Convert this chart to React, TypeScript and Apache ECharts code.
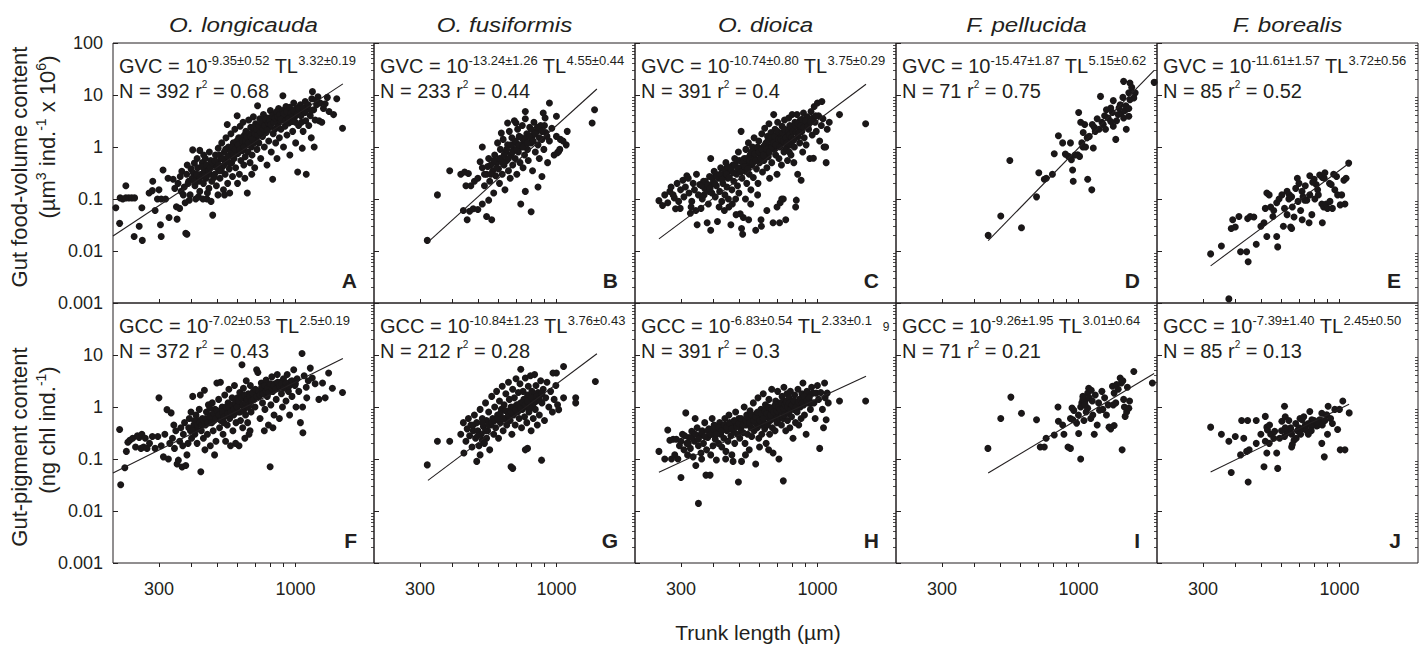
import React, { useEffect, useRef } from "react";
import * as echarts from "echarts";

const FONT = '"Liberation Sans", Arial, Helvetica, sans-serif';
const INK = "#231f20";

const speciesNames = ["O. longicauda", "O. fusiformis", "O. dioica", "F. pellucida", "F. borealis"];
const gvcLetters = ["A", "B", "C", "D", "E"];
const gccLetters = ["F", "G", "H", "I", "J"];

const gvcIntercept = ["-9.35", "-13.24", "-10.74", "-15.47", "-11.61"];
const gvcInterceptErr = ["0.52", "1.26", "0.80", "1.87", "1.57"];
const gvcSlope = ["3.32", "4.55", "3.75", "5.15", "3.72"];
const gvcSlopeErr = ["0.19", "0.44", "0.29", "0.62", "0.56"];
const gvcN = [392, 233, 391, 71, 85];
const gvcR2 = ["0.68", "0.44", "0.4", "0.75", "0.52"];

const gccIntercept = ["-7.02", "-10.84", "-6.83", "-9.26", "-7.39"];
const gccInterceptErr = ["0.53", "1.23", "0.54", "1.95", "1.40"];
const gccSlope = ["2.5", "3.76", "2.33", "3.01", "2.45"];
const gccSlopeErr = ["0.19", "0.43", "0.1", "0.64", "0.50"];
const gccN = [372, 212, 391, 71, 85];
const gccR2 = ["0.43", "0.28", "0.3", "0.21", "0.13"];

const fitStartTL = [200, 322, 247, 451, 321];
const fitEndTL = [1520, 1429, 1535, 1950, 1089];

const xTickValues = [300, 400, 500, 600, 700, 800, 900, 1000];
const xLabelValues = [300, 1000];
const yDecadeValues = [0.0010001, 0.01, 0.1, 1, 10, 99.99];
const yDecadeLabels = ["0.001", "0.01", "0.1", "1", "10", "100"];
const yMinorValues = [
  0.002, 0.003, 0.004, 0.005, 0.006, 0.007, 0.008, 0.009,
  0.02, 0.03, 0.04, 0.05, 0.06, 0.07, 0.08, 0.09,
  0.2, 0.3, 0.4, 0.5, 0.6, 0.7, 0.8, 0.9,
  2, 3, 4, 5, 6, 7, 8, 9,
  20, 30, 40, 50, 60, 70, 80, 90,
];

// ---- GVC (gut food-volume content) ----
const gvcLongicauda = [
  [205,0.068],[212,0.034],[213,0.105],[218,0.1],[224,0.105],[230,0.105],[236,0.105],[242,0.105],[224,0.18],[241,0.019],[259,0.016],[252,0.03],[258,0.068],
  [275,0.13],[283,0.145],[284,0.22],[296,0.1],[306,0.1],[318,0.1],[304,0.032],[306,0.019],[328,0.044],[311,0.36],[325,0.25],[340,0.24],[300,0.15],[290,0.06],
  [352,0.041],[350,0.071],[360,0.066],[380,0.022],[384,0.021],[372,0.12],[367,0.34],[362,0.27],[345,0.16],[355,0.2],[365,0.14],[375,0.17],[383,0.3],[390,0.22],[395,0.12],[398,0.38],[385,0.45],[392,0.095],[378,0.085],[388,0.2],
  [404,0.88],[430,0.86],[410,0.49],[402,0.25],[406,0.32],[412,0.18],[418,0.27],[422,0.4],[426,0.22],[430,0.14],[435,0.3],[440,0.5],[444,0.2],[448,0.35],[452,0.6],[455,0.25],[458,0.1],[462,0.42],[466,0.16],[470,0.3],[474,0.55],[478,0.22],[415,0.1],[425,0.11],[442,0.1],[460,0.13],[475,0.09],[420,0.6],[445,0.7],[468,0.8],
  [482,0.049],[485,0.45],[490,0.3],[494,0.7],[498,0.18],[502,0.5],[506,0.95],[510,0.35],[514,0.25],[518,0.6],[522,1.2],[526,0.42],[530,0.15],[534,0.8],[538,0.3],[542,1.5],[546,0.55],[548,2.7],[550,0.2],[554,1.0],[558,0.38],[562,0.7],[566,1.8],[570,0.5],[574,0.27],[578,1.2],[505,0.12],[535,0.12],[560,0.13],[575,0.9],
  [582,0.6],[586,2.2],[590,0.4],[594,1.0],[598,4.0],[602,0.75],[606,1.5],[610,0.3],[614,2.5],[618,0.55],[622,1.2],[626,0.85],[630,3.0],[634,0.45],[638,1.7],[642,0.65],[646,2.0],[650,1.1],[654,0.13],[658,0.8],[662,3.3],[666,1.4],[670,0.5],[674,2.4],[678,1.0],[682,0.7],[686,1.9],[690,3.8],[694,1.2],[698,0.4],[600,0.2],[640,0.25],[680,0.3],
  [704,2.8],[708,1.5],[712,0.9],[716,6.2],[720,2.0],[724,1.2],[730,3.5],[736,0.6],[742,2.5],[748,1.6],[754,4.2],[760,1.0],[766,2.9],[772,1.9],[778,0.45],[784,3.6],[790,1.3],[796,2.4],[802,5.0],[808,0.8],[814,3.0],[818,0.24],[822,1.8],[828,4.3],[834,2.2],[840,1.2],[846,3.4],[850,0.6],
  [856,2.7],[862,5.5],[868,1.5],[874,3.2],[880,2.2],[886,4.6],[895,9.7],[900,1.0],[906,3.6],[912,2.5],[920,6.0],[928,1.7],[936,4.0],[944,2.9],[952,0.7],[960,5.2],[968,3.1],[976,2.0],[985,7.0],[994,3.8],[1002,1.2],[1010,5.6],[1020,0.33],[1028,2.6],[1036,4.4],[1045,6.5],[1055,3.0],[1062,0.95],[1070,2.0],[1080,4.8],[1090,7.5],[1100,0.3],[1095,3.2],
  [1110,5.8],[1125,2.6],[1140,4.0],[1155,8.5],[1162,11.6],[1175,5.2],[1190,3.3],[1205,6.5],[1220,9.2],[1232,3.2],[1245,7.0],[1262,3.0],[1280,5.5],[1300,6.8],[1325,9.0],[1345,4.8],[1400,4.2],[1440,8.5],[1515,2.3],[1180,1.0],[1150,1.5],
  [410,0.22],[420,0.3],[432,0.26],[438,0.42],[450,0.28],[457,0.45],[465,0.35],[472,0.4],[480,0.5],[488,0.26],[492,0.55],[500,0.4],[508,0.45],[512,0.7],[520,0.35],[528,0.6],[532,0.45],[540,0.9],[552,0.65],[556,0.5],[564,0.85],[572,1.0],[580,0.7],[588,0.9],[596,1.3],[604,1.1],[612,0.9],[620,1.5],[628,1.3],[636,1.0],[644,1.3],[652,1.6],[660,1.2],[668,1.8],[676,1.6],[684,1.4],[692,2.4],[700,1.8],[710,2.2],[718,1.7],[726,2.6],[734,1.9],[744,3.0],[752,2.2],[762,2.6],[770,3.4],[780,2.1],[788,2.9],[798,3.2],[806,2.7],[816,4.0],[826,3.0],[836,3.6],[848,4.8],[858,3.8],[870,4.2],[882,3.4],[892,5.0],[904,4.4],[916,3.2],[926,4.8],[940,3.5],[950,5.8],[962,4.5],[975,3.8],[988,5.0],[1000,3.0],[1015,4.2],[1030,5.4],[1050,4.0],[1070,5.6],[1090,4.6],[1120,6.5],[1150,5.0],[1200,8.0],
];
const gvcFusiformis = [
  [320,0.016],[350,0.12],[390,0.35],[430,0.3],[445,0.33],[460,0.31],[440,0.06],[455,0.04],[465,0.058],[480,0.065],[500,0.063],[450,0.18],[470,0.18],[485,0.22],[540,0.046],[565,0.04],[520,0.08],[550,0.095],[510,0.52],[520,1.0],[615,1.85],[650,2.9],[700,2.9],[760,4.8],[890,4.5],[905,3.6],[940,7.0],[1000,3.9],[1100,2.0],[1035,1.4],[1090,1.1],[1020,0.82],[1010,0.78],[880,0.27],[850,0.17],[800,0.057],[730,0.08],[760,0.14],[1400,5.2],[1370,2.9],
  [500,0.25],[520,0.4],[530,0.18],[540,0.3],[550,0.6],[555,0.22],[560,0.45],[570,0.35],[575,0.13],[580,0.7],[585,0.28],[590,0.5],[595,1.2],[600,0.38],[605,0.2],[610,0.9],[615,0.6],[620,0.3],[625,1.4],[630,0.45],[635,0.15],[640,0.8],[645,0.55],[650,1.1],[655,0.35],[660,2.0],[665,0.25],[670,0.7],[675,1.5],[680,0.45],[685,0.9],[690,3.2],[695,0.6],[700,1.2],[705,0.3],[710,2.2],[715,0.8],[720,1.6],[725,0.5],[730,1.0],[740,2.6],[745,0.4],[750,1.3],[755,0.7],[760,3.5],[770,1.8],[775,0.9],[780,0.55],[790,2.4],[800,1.2],[810,0.35],[815,1.7],[820,3.0],[830,0.8],[840,2.0],[850,1.1],[860,0.6],[870,2.6],[880,1.4],[895,0.9],[910,1.9],[925,0.5],[940,1.3],[960,2.3],[980,0.7],[1000,1.6],[1030,0.9],[1060,1.3],
  [530,0.3],[545,0.42],[560,0.3],[575,0.55],[590,0.4],[605,0.6],[620,0.5],[630,0.7],[645,0.9],[655,0.6],[670,1.1],[680,0.8],[695,1.3],[705,0.9],[720,1.1],[735,1.5],[745,1.0],[760,1.4],[775,1.2],[790,1.6],[800,2.2],[815,1.3],[830,1.8],[845,2.4],[860,1.5],[880,2.0],[900,2.6],[920,1.6],
];
const gvcDioica = [
  [247,0.093],[255,0.075],[260,0.12],[267,0.085],[272,0.14],[275,0.17],[280,0.12],[283,0.105],[286,0.065],[290,0.2],[294,0.09],[298,0.066],[299,0.15],
  [305,0.23],[308,0.11],[312,0.17],[316,0.28],[320,0.25],[322,0.13],[326,0.053],[330,0.09],[334,0.2],[338,0.15],[342,0.06],[346,0.032],[350,0.12],[354,0.19],[358,0.066],[344,0.3],[328,0.07],
  [362,0.1],[366,0.22],[370,0.16],[374,0.17],[378,0.035],[382,0.08],[386,0.27],[390,0.6],[390,0.025],[394,0.13],[398,0.2],[402,0.34],[406,0.11],[410,0.18],[414,0.037],[418,0.25],[422,0.14],[426,0.4],[430,0.09],[368,0.12],[384,0.14],[408,0.3],[420,0.07],
  [434,0.2],[438,0.3],[442,0.12],[446,0.5],[450,0.17],[454,0.25],[458,0.07],[462,0.35],[466,0.032],[470,0.15],[474,0.45],[478,0.22],[482,0.6],[486,0.1],[490,0.3],[494,0.18],[498,0.8],[502,0.4],[506,0.052],[510,2.0],[512,0.027],[514,0.25],[517,0.021],[520,0.044],[440,0.06],[456,0.1],[472,0.08],[488,0.05],[500,0.13],
  [524,0.6],[528,0.35],[532,0.9],[536,0.2],[540,0.5],[544,1.2],[548,0.3],[552,0.7],[556,0.15],[560,0.45],[564,1.0],[568,0.26],[572,1.5],[576,0.6],[580,0.025],[584,0.38],[588,0.85],[592,0.2],[596,1.3],[600,0.5],[604,0.7],[608,0.04],[612,1.8],[616,0.33],[620,1.0],[530,0.1],[555,0.08],[590,0.12],[610,0.03],[545,0.04],
  [624,0.55],[628,2.3],[632,0.8],[636,1.2],[640,0.4],[644,1.6],[648,0.65],[652,2.8],[656,0.25],[660,1.0],[664,1.9],[668,0.5],[672,1.3],[676,0.035],[680,4.2],[684,0.9],[688,2.2],[692,0.7],[696,1.5],[700,0.3],[704,3.0],[708,1.1],[712,0.6],[716,0.035],[720,0.085],[724,1.8],[728,0.45],[732,2.5],[736,1.2],[740,0.1],[744,0.8],[748,3.3],[752,1.6],[756,0.04],[760,0.95],[640,0.06],[700,0.07],[730,0.1],
  [764,2.1],[768,0.55],[772,1.4],[776,3.6],[780,0.8],[784,2.6],[788,1.1],[792,0.7],[796,1.8],[800,4.2],[804,1.3],[808,2.3],[812,0.5],[816,1.0],[820,3.0],[825,0.07],[830,0.095],[835,4.2],[840,0.3],[845,1.6],[850,2.4],[855,1.2],[860,3.3],[866,0.23],[872,2.0],[878,0.8],[884,4.5],[890,1.5],[896,2.9],
  [905,1.1],[915,3.8],[925,2.2],[935,0.6],[945,4.8],[955,1.7],[965,0.61],[972,6.0],[980,3.0],[990,2.0],[1000,7.0],[1010,4.0],[1020,1.3],[1035,2.6],[1040,7.5],[1050,3.5],[1060,1.0],[1075,1.0],[1090,2.2],[1110,3.0],[1215,4.2],[1530,2.8],[1080,0.5],
  [360,0.18],[372,0.22],[380,0.19],[388,0.16],[396,0.25],[404,0.2],[412,0.27],[424,0.3],[432,0.24],[440,0.36],[448,0.3],[452,0.42],[460,0.26],[468,0.38],[476,0.32],[484,0.45],[492,0.55],[496,0.38],[504,0.55],[510,0.33],[518,0.5],[526,0.42],[534,0.6],[542,0.38],[550,0.55],[558,0.8],[566,0.5],[574,0.75],[582,0.55],[590,1.0],[598,0.8],[606,0.6],[614,0.9],[622,0.7],[630,1.1],[638,0.9],[646,1.3],[654,0.8],[662,1.5],[670,1.0],[678,1.2],[686,1.6],[694,1.1],[702,2.0],[710,1.4],[718,1.0],[726,1.4],[734,1.9],[742,1.3],[750,2.2],[758,1.5],[766,1.2],[774,2.0],[782,1.7],[790,2.4],[798,1.5],[806,2.0],[814,1.4],[822,2.6],[830,1.9],[842,2.8],[852,1.9],[862,2.6],[874,3.4],[886,2.4],[900,3.2],[920,2.5],[940,3.0],[960,3.6],[985,4.0],
];
const gvcPellucida = [
  [451,0.020],[504,0.047],[546,0.55],[605,0.028],[691,0.11],[705,0.32],[740,0.24],[753,0.25],[795,0.3],[808,0.74],[838,1.65],[891,0.73],[916,0.66],[932,1.2],[940,0.57],[950,0.36],[955,0.22],[993,0.71],[1010,0.66],[1002,4.6],[1020,3.0],[1057,2.7],[1080,1.5],[1030,1.2],[1085,0.24],[1125,0.15],[1043,1.9],[1130,2.7],[1160,2.0],[1215,9.4],[1245,2.7],[1330,3.1],[1360,2.5],[1390,1.4],[1445,6.5],[1455,4.4],[1490,3.6],[1505,5.0],[1490,18.3],[1575,17],[1560,11],[1630,8.8],[1525,2.2],[1560,3.9],[1575,8.1],[1950,17.5],[1360,7.8],[1330,5.6],[1270,2.2],[1430,5.6],[1140,0.96],[1065,1.0],[970,0.7],[870,1.2],
  [1100,1.6],[1180,3.5],[1260,4.0],[1280,5.2],[1400,3.2],[1520,6.2],[1650,11],[1600,14],[1150,2.4],[1350,4.6],[1480,9.0],[1040,1.0],[1200,2.2],[1300,3.6],[1420,4.2],[1560,5.5],[1230,3.0],
];
const gvcBorealis = [
  [321,0.0088],[353,0.0125],[377,0.0012],[418,0.0097],[441,0.0097],[447,0.0062],[385,0.027],[399,0.029],[390,0.04],[412,0.046],[445,0.042],[455,0.046],[480,0.0135],[527,0.019],[575,0.019],[580,0.012],[527,0.13],[538,0.12],[520,0.066],[545,0.07],[514,0.035],[556,0.046],[575,0.085],[587,0.1],[602,0.12],[616,0.066],[630,0.05],[643,0.12],[656,0.11],[650,0.029],[656,0.027],[694,0.09],[710,0.06],[700,0.2],[719,0.14],[750,0.095],[765,0.035],[800,0.24],[815,0.19],[825,0.15],[840,0.29],[856,0.08],[870,0.07],[890,0.08],[916,0.2],[930,0.19],[975,0.27],[984,0.12],[1007,0.077],[1040,0.23],[1085,0.49],[900,0.066],[940,0.066],[860,0.035],[784,0.05],[736,0.095],[725,0.11],[860,0.26],[875,0.25],[790,0.21],[660,0.07],[670,0.045],[640,0.1],[560,0.06],[630,0.14],[680,0.16],[740,0.18],[770,0.12],[805,0.1],[830,0.12],[950,0.3],[960,0.15],[1020,0.12],[1060,0.25],[720,0.04],[610,0.03],[500,0.03],[470,0.045],[690,0.25],[770,0.28],[880,0.32],[920,0.09],[1050,0.08],
];

// ---- GCC (gut-pigment content) ----
const gccLongicauda = [
  [212,0.37],[214,0.032],[222,0.068],[225,0.14],[228,0.21],[232,0.23],[238,0.25],[244,0.17],[248,0.28],[252,0.26],[256,0.16],[258,0.3],[262,0.17],[266,0.25],[270,0.16],[276,0.2],[283,0.27],[290,0.16],[297,0.27],[300,1.5],
  [306,0.18],[312,0.11],[316,0.3],[322,0.89],[326,0.1],[330,0.2],[334,0.77],[338,0.25],[344,0.16],[348,0.35],[352,0.08],[356,0.095],[360,0.22],[364,0.4],[368,0.07],[372,0.3],[376,0.5],[380,0.075],[384,0.12],[388,0.2],[392,0.6],[396,0.35],[400,0.25],[342,0.45],[370,0.18],[398,0.8],
  [404,1.6],[408,0.45],[412,0.3],[416,0.7],[420,0.2],[424,0.55],[428,0.9],[432,1.7],[434,0.057],[436,0.35],[440,0.6],[444,0.25],[448,2.1],[452,0.45],[456,0.8],[460,0.3],[464,1.1],[468,0.5],[472,0.18],[476,0.7],[480,1.2],[484,0.35],[488,0.55],[492,0.9],[496,0.22],[500,2.9],[504,0.6],[508,1.4],[512,0.4],[516,3.0],[520,0.75],[418,0.38],[450,0.15],[490,0.12],[470,0.95],
  [524,1.0],[528,0.3],[532,0.5],[536,1.7],[540,0.22],[544,0.8],[548,0.45],[552,1.2],[556,2.2],[560,0.6],[564,0.18],[568,0.9],[572,1.5],[576,0.35],[580,0.7],[584,2.6],[588,1.0],[592,0.5],[596,1.3],[600,1.5],[604,0.8],[608,0.18],[612,1.9],[616,0.55],[620,1.1],[624,6.5],[628,0.4],[632,2.3],[636,0.9],[640,1.4],[644,0.7],[648,3.2],[652,1.0],[656,0.5],[660,1.8],[664,0.3],[668,1.2],[672,2.6],[676,0.8],[680,1.5],[590,0.2],[640,0.25],[670,0.35],
  [690,2.0],[700,1.0],[710,5.2],[718,4.6],[725,1.6],[732,0.6],[740,2.9],[748,1.2],[756,2.2],[764,0.9],[772,3.3],[780,1.6],[788,0.45],[796,2.5],[800,0.071],[805,1.1],[812,3.8],[820,2.0],[828,0.7],[836,2.8],[844,1.4],[852,4.2],[860,2.3],[868,0.6],[876,3.0],[884,1.8],[892,1.0],[900,3.5],[760,0.35],[820,0.4],
  [910,2.5],[920,1.3],[930,4.2],[940,2.0],[950,0.7],[960,3.1],[970,1.6],[985,5.2],[995,2.6],[1005,1.0],[1015,3.5],[1030,2.0],[1045,0.5],[1060,10.7],[1065,1.0],[1068,0.32],[1080,4.0],[1100,2.4],[1120,3.2],[1140,5.6],[1160,3.6],[1190,2.8],[1230,1.4],[1270,2.9],[1300,1.5],[1340,4.5],[1385,2.3],[1515,1.9],[1105,1.5],
  [390,0.4],[402,0.35],[410,0.55],[422,0.45],[430,0.5],[438,0.45],[446,0.55],[454,0.6],[462,0.5],[470,0.65],[478,0.5],[486,0.75],[494,0.6],[502,0.85],[510,0.7],[518,0.55],[526,0.8],[534,0.65],[542,1.0],[550,0.75],[558,1.0],[566,0.8],[574,1.1],[582,0.9],[590,1.2],[598,1.0],[606,1.3],[614,0.8],[622,1.5],[630,1.1],[638,1.7],[646,1.2],[654,1.4],[662,1.0],[670,1.6],[678,1.3],[686,1.8],[694,1.4],[702,2.2],[712,1.6],[722,2.0],[732,1.7],[742,2.4],[752,1.8],[762,2.6],[772,2.0],[782,2.3],[792,1.9],[802,2.8],[815,2.2],[825,2.6],[840,2.2],[855,3.0],[870,2.5],[885,2.8],[900,2.3],[920,2.9],[945,2.5],[970,3.2],[1000,2.8],
];
const gccFusiformis = [
  [320,0.077],[350,0.22],[390,0.22],[442,0.13],[495,0.09],[510,0.12],[520,0.23],[540,0.25],[670,0.071],[680,0.066],[760,0.15],[775,0.16],[877,0.095],[730,5.3],[1065,6.0],[1410,3.1],[1185,1.5],[1185,1.2],[1065,1.5],[1020,0.89],[1000,4.5],[970,4.5],
  [430,0.3],[440,0.5],[450,0.22],[455,0.38],[460,0.6],[465,0.28],[470,0.45],[475,0.17],[480,0.35],[485,0.7],[490,0.25],[495,0.5],[500,0.35],[505,0.18],[510,0.9],[515,0.3],[520,0.6],[525,0.42],[530,0.2],[535,1.2],[540,0.55],[545,0.35],[550,0.8],[555,0.15],[560,0.45],[565,1.6],[570,0.6],[575,0.3],[580,1.0],[585,0.4],[590,2.0],[595,0.7],[600,0.25],[605,1.3],[610,0.5],[615,0.9],[620,2.5],[625,0.35],[630,1.1],[635,0.6],[640,1.8],[645,0.45],[650,0.8],[655,3.0],[660,1.4],[665,0.55],[670,1.0],[675,0.3],[680,2.2],[685,0.7],[690,1.5],[695,0.45],[700,3.5],[705,1.1],[710,0.8],[715,1.9],[720,0.6],[725,2.8],[730,1.2],[735,0.4],[740,0.9],[745,2.0],[750,1.4],[755,0.65],[760,3.6],[765,1.0],[770,0.5],[775,1.7],[780,2.5],[785,0.8],[790,1.3],[795,4.0],[800,0.35],[805,2.0],[810,1.0],[815,0.6],[820,1.6],[825,4.2],[830,0.9],[835,2.6],[840,1.3],[845,0.45],[850,1.9],[860,0.7],[870,3.2],[880,1.2],[890,2.2],[900,0.55],[910,1.5],[920,3.0],[935,1.0],[950,2.0],[965,0.8],[980,1.4],[995,2.6],[1010,1.1],
  [480,0.45],[500,0.28],[520,0.5],[535,0.35],[550,0.45],[565,0.5],[580,0.55],[595,0.6],[610,0.75],[625,0.6],[640,0.85],[655,0.7],[670,0.8],[685,1.0],[700,0.9],[715,1.1],[730,0.95],[745,1.2],[760,1.1],[775,1.3],[790,1.0],[805,1.5],[820,1.2],[840,1.6],[860,1.4],[880,1.8],
];
const gccDioica = [
  [247,0.14],[260,0.1],[267,0.36],[272,0.23],[276,0.1],[280,0.24],[284,0.12],[288,0.24],[292,0.1],[296,0.18],[300,0.044],[304,0.3],[308,0.15],[313,0.77],[316,0.2],[318,0.12],
  [322,0.26],[326,0.16],[330,0.34],[334,0.11],[338,0.22],[342,0.075],[346,0.4],[350,0.014],[350,0.18],[354,0.28],[358,0.13],[362,0.35],[366,0.2],[370,0.5],[374,0.049],[376,0.15],[380,0.26],[384,0.38],[388,0.049],[390,0.12],[394,0.3],[398,0.18],[402,0.45],[406,0.24],[410,0.096],[414,0.35],[418,0.2],[340,0.6],[360,0.1],[395,0.6],
  [422,0.5],[426,0.3],[430,0.17],[434,0.42],[438,0.25],[442,0.6],[446,0.14],[450,0.35],[454,0.22],[458,0.7],[462,0.4],[466,0.28],[470,0.12],[474,0.5],[478,0.33],[482,0.2],[486,0.8],[490,0.45],[494,0.3],[498,0.036],[500,0.6],[504,0.25],[508,0.38],[512,0.09],[516,0.55],[520,0.32],[524,1.0],[528,0.2],[532,0.45],[536,0.7],[540,0.3],[544,0.5],[548,0.15],[552,0.85],[556,0.4],[560,0.27],[445,0.1],[475,0.09],[530,0.12],
  [564,0.6],[568,1.2],[572,0.35],[576,0.5],[580,0.08],[584,0.75],[588,0.4],[592,1.5],[596,0.25],[600,0.6],[604,0.45],[608,0.9],[612,0.3],[616,0.7],[620,1.8],[624,0.5],[628,0.38],[632,1.1],[636,0.2],[640,0.65],[644,0.45],[648,0.9],[652,1.4],[656,0.3],[660,0.55],[664,0.8],[668,2.2],[672,0.4],[676,0.13],[680,1.0],[684,0.6],[688,0.35],[692,1.3],[696,0.7],[700,0.5],[704,2.0],[708,0.9],[712,0.1],[716,0.6],[720,1.2],[740,0.038],[650,0.15],[600,0.17],
  [724,0.8],[728,0.45],[732,1.6],[736,1.0],[740,0.6],[744,2.4],[748,0.7],[752,1.3],[756,0.35],[760,0.9],[764,1.8],[768,0.55],[772,1.1],[776,0.75],[780,1.5],[784,0.4],[788,2.0],[792,1.0],[796,0.65],[800,1.3],[806,0.25],[812,0.9],[818,1.7],[824,0.5],[830,1.2],[836,0.8],[842,2.2],[848,0.45],[854,1.4],[860,1.0],[866,0.6],[872,1.8],[880,2.9],[886,1.1],[892,0.7],[898,1.5],
  [905,0.3],[912,2.0],[920,1.2],[930,1.6],[940,0.9],[950,2.4],[960,1.85],[970,1.2],[980,0.6],[990,1.85],[1000,2.6],[1010,1.4],[1020,0.16],[1030,1.9],[1045,0.9],[1065,2.9],[1070,1.5],[1080,0.57],[1090,1.85],[1100,1.2],[1215,1.3],[1530,1.3],[1055,0.4],
  [300,0.22],[310,0.28],[320,0.2],[330,0.26],[340,0.3],[350,0.24],[360,0.32],[370,0.27],[380,0.35],[390,0.3],[400,0.38],[410,0.3],[420,0.4],[430,0.35],[440,0.45],[450,0.4],[460,0.5],[470,0.38],[480,0.55],[490,0.42],[500,0.48],[510,0.6],[520,0.45],[530,0.55],[540,0.65],[550,0.5],[560,0.7],[570,0.55],[580,0.65],[590,0.8],[600,0.55],[610,0.75],[620,0.6],[630,0.85],[640,0.75],[650,1.0],[660,0.7],[670,0.9],[680,0.8],[690,1.1],[700,0.85],[710,1.0],[720,0.9],[730,1.2],[740,0.95],[750,1.1],[760,1.25],[770,1.0],[780,1.2],[790,0.9],[800,1.1],[815,1.3],[830,1.0],[845,1.25],[860,1.4],[875,1.2],[890,1.6],[910,1.3],[930,1.5],[950,1.2],
];
const gccPellucida = [
  [450,0.16],[504,0.6],[551,1.55],[605,0.76],[691,0.57],[714,0.17],[740,0.17],[752,0.25],[808,0.29],[838,0.53],[835,1.0],[880,0.3],[912,0.17],[932,0.16],[932,0.6],[952,0.57],[960,0.86],[945,0.96],[984,0.49],[1002,0.31],[1020,0.1],[1030,1.2],[1020,1.0],[1040,1.4],[1060,1.3],[1070,0.8],[1085,0.95],[1095,2.3],[1085,1.85],[1115,0.6],[1135,0.7],[1150,0.3],[1195,1.2],[1205,0.87],[1300,1.1],[1310,0.41],[1330,0.38],[1360,1.1],[1370,0.44],[1350,2.5],[1370,1.85],[1470,0.15],[1490,1.4],[1500,1.0],[1510,0.66],[1530,0.8],[1560,0.95],[1460,2.9],[1400,2.7],[1445,3.6],[1630,4.8],[1920,2.9],
  [1040,1.6],[1060,1.1],[1100,1.5],[1130,1.3],[1160,1.7],[1230,2.0],[1260,1.5],[1280,0.7],[1420,2.2],[1540,2.4],[1480,3.2],[1000,0.7],[1050,0.55],[1180,0.45],[1240,0.9],[1390,1.2],[870,0.45],[1120,2.1],[1570,1.3],
];
const gccBorealis = [
  [321,0.41],[353,0.3],[377,0.22],[399,0.27],[422,0.55],[445,0.55],[385,0.055],[418,0.12],[441,0.14],[451,0.15],[447,0.036],[480,0.55],[520,0.66],[527,0.41],[514,0.071],[527,0.13],[575,0.13],[580,0.066],[530,0.36],[545,0.3],[565,0.34],[520,0.22],[538,0.2],[616,1.03],[602,0.53],[630,0.32],[643,0.34],[656,0.3],[650,0.37],[616,0.27],[670,0.23],[683,0.25],[656,0.17],[660,0.19],[706,0.6],[719,0.57],[736,0.41],[753,0.34],[770,0.82],[784,0.57],[800,0.46],[818,0.43],[825,0.44],[840,0.57],[856,0.2],[875,0.11],[856,0.76],[894,0.71],[905,1.03],[925,0.6],[984,0.37],[1007,0.15],[1030,1.3],[1050,0.15],[1090,0.77],
  [700,0.4],[720,0.38],[740,0.45],[760,0.48],[780,0.42],[690,0.35],[710,0.3],[650,0.4],[600,0.35],[620,0.4],[760,0.3],[800,0.55],[830,0.5],[860,0.45],[880,0.55],[940,0.48],[960,0.9],[590,0.25],[560,0.25],[500,0.3],[480,0.2],[430,0.25],[540,0.45],[620,0.65],[680,0.48],[780,0.35],[900,0.3],[1000,0.9],[640,0.55],[730,0.65],
];

const gvcData = [gvcLongicauda, gvcFusiformis, gvcDioica, gvcPellucida, gvcBorealis];
const gccData = [gccLongicauda, gccFusiformis, gccDioica, gccPellucida, gccBorealis];

// layout
const PL = 113;
const PT = 43;
const PW = 261;
const PH = 260;

function fitLine(intercept: string, slope: string, i: number) {
  const a = parseFloat(intercept);
  const b = parseFloat(slope);
  return [fitStartTL[i], fitEndTL[i]].map((x) => [x, Math.pow(10, a + b * Math.log10(x))]);
}

function yLabelFor(v: number) {
  let best = 0;
  let bd = Infinity;
  yDecadeValues.forEach((t, k) => {
    const d = Math.abs(Math.log10(t) - Math.log10(v));
    if (d < bd) { bd = d; best = k; }
  });
  return yDecadeLabels[best];
}

function buildOption() {
  const grid: any[] = [];
  const xAxis: any[] = [];
  const yAxis: any[] = [];
  const series: any[] = [];
  const graphic: any[] = [];

  const rich = {
    m: { fontSize: 20, fontFamily: FONT, fill: INK, lineHeight: 24 },
    s: { fontSize: 13, fontFamily: FONT, fill: INK, lineHeight: 22, verticalAlign: "top" },
    t: { fontSize: 10, fontFamily: FONT, fill: INK, lineHeight: 19, verticalAlign: "top" },
  };

  for (let r = 0; r < 2; r++) {
    for (let c = 0; c < 5; c++) {
      const g = r * 5 + c;
      grid.push({
        left: PL + c * PW, top: PT + r * PH, width: PW, height: PH,
        show: true, borderColor: INK, borderWidth: 1, backgroundColor: "transparent",
      });
      xAxis.push({
        type: "log", logBase: 10, gridIndex: g, min: 200, max: 2000,
        axisLine: { show: false }, splitLine: { show: false },
        axisTick: { show: true, inside: r === 0, length: 4, customValues: xTickValues, lineStyle: { color: INK, width: 1 } },
        axisLabel: {
          show: r === 1, customValues: xLabelValues, fontSize: 18, fontFamily: FONT, color: INK, margin: 17,
          formatter: (v: number) => String(Math.round(v)),
        },
      });
      const labelVals = r === 0 ? yDecadeValues : yDecadeValues.slice(0, 5);
      yAxis.push({
        type: "log", logBase: 10, gridIndex: g, min: 0.001, max: 100,
        axisLine: { show: false }, splitLine: { show: false },
        axisTick: { show: true, inside: true, length: 5, customValues: yDecadeValues, lineStyle: { color: INK, width: 1 } },
        axisLabel: {
          show: c === 0, customValues: labelVals, fontSize: 18, fontFamily: FONT, color: INK, margin: 10,
          formatter: (v: number) => yLabelFor(v),
        },
      });
      yAxis.push({
        type: "log", logBase: 10, gridIndex: g, min: 0.001, max: 100,
        axisLine: { show: false }, splitLine: { show: false },
        axisTick: { show: true, inside: true, length: 3, customValues: yMinorValues, lineStyle: { color: INK, width: 0.8 } },
        axisLabel: { show: false },
      });

      const data = r === 0 ? gvcData[c] : gccData[c];
      series.push({
        type: "scatter", xAxisIndex: g, yAxisIndex: 2 * g, data,
        symbol: "circle", symbolSize: 7, itemStyle: { color: "#1a1718", opacity: 1 }, silent: true,
      });
      const line = r === 0 ? fitLine(gvcIntercept[c], gvcSlope[c], c) : fitLine(gccIntercept[c], gccSlope[c], c);
      series.push({
        type: "line", xAxisIndex: g, yAxisIndex: 2 * g, data: line, showSymbol: false, symbol: "none",
        lineStyle: { color: INK, width: 1.1 }, silent: true, z: 3,
      });

      const prefix = r === 0 ? "GVC" : "GCC";
      const ic = r === 0 ? gvcIntercept[c] : gccIntercept[c];
      const ice = r === 0 ? gvcInterceptErr[c] : gccInterceptErr[c];
      const sl = r === 0 ? gvcSlope[c] : gccSlope[c];
      const sle = r === 0 ? gvcSlopeErr[c] : gccSlopeErr[c];
      const n = r === 0 ? gvcN[c] : gccN[c];
      const r2 = r === 0 ? gvcR2[c] : gccR2[c];
      const left = PL + c * PW + 6;
      const top = PT + r * PH;
      graphic.push({
        type: "text", x: left, y: top + 23, z: 10,
        style: {
          text: `{m|${prefix} = 10}{s|${ic}±${ice}}{m| TL}{s|${sl}±${sle}}`,
          rich, align: "left", verticalAlign: "middle", fill: INK,
        },
      });
      graphic.push({
        type: "text", x: left, y: top + 48, z: 10,
        style: {
          text: `{m|N = ${n} r}{t|2}{m| = ${r2}}`,
          rich, align: "left", verticalAlign: "middle", fill: INK,
        },
      });
      const letter = r === 0 ? gvcLetters[c] : gccLetters[c];
      graphic.push({
        type: "text", x: PL + (c + 1) * PW - 17, y: top + 237, z: 10,
        style: { text: letter, fontSize: 21, fontWeight: "bold", fontFamily: FONT, fill: INK, align: "right", verticalAlign: "middle" },
      });
    }
  }

  speciesNames.forEach((name, c) => {
    graphic.push({
      type: "text", x: PL + c * PW + PW / 2, y: 25, scaleX: 1.15,
      style: { text: name, fontSize: 21, fontStyle: "italic", fontFamily: FONT, fill: INK, align: "center", verticalAlign: "middle" },
    });
  });

  const richTitle = {
    m: { fontSize: 22, fontFamily: FONT, fill: INK, lineHeight: 26 },
    s: { fontSize: 14, fontFamily: FONT, fill: INK, lineHeight: 21, verticalAlign: "top" },
  };
  graphic.push({
    type: "text", x: 19, y: 167, rotation: Math.PI / 2,
    style: { text: "{m|Gut food-volume content}", rich: richTitle, align: "center", verticalAlign: "middle" },
  });
  graphic.push({
    type: "text", x: 47, y: 137, rotation: Math.PI / 2,
    style: { text: "{m|(µm}{s|3}{m| ind.}{s|-1}{m| x 10}{s|6}{m|)}", rich: richTitle, align: "center", verticalAlign: "middle" },
  });
  graphic.push({
    type: "text", x: 19, y: 447, rotation: Math.PI / 2,
    style: { text: "{m|Gut-pigment content}", rich: richTitle, align: "center", verticalAlign: "middle" },
  });
  graphic.push({
    type: "text", x: 47, y: 430, rotation: Math.PI / 2,
    style: { text: "{m|(ng chl ind.}{s|-1}{m|)}", rich: richTitle, align: "center", verticalAlign: "middle" },
  });
  graphic.push({
    type: "text", x: 758, y: 632,
    style: { text: "Trunk length (µm)", fontSize: 21, fontFamily: FONT, fill: INK, align: "center", verticalAlign: "middle" },
  });
  graphic.push({
    type: "text", x: 886, y: 327,
    style: { text: "9", fontSize: 12, fontFamily: FONT, fill: INK, align: "center", verticalAlign: "middle" },
  });

  return {
    animation: false,
    backgroundColor: "#ffffff",
    grid, xAxis, yAxis, series, graphic,
  };
}

export default function App() {
  const ref = useRef<HTMLDivElement>(null);
  useEffect(() => {
    if (!ref.current) return;
    const chart = echarts.init(ref.current, undefined, { renderer: "svg" });
    chart.setOption(buildOption() as any);
    return () => chart.dispose();
  }, []);
  return (
    <div
      ref={ref}
      style={{ position: "fixed", left: 0, top: 0, width: 1421, height: 646, background: "#fff" }}
    />
  );
}
